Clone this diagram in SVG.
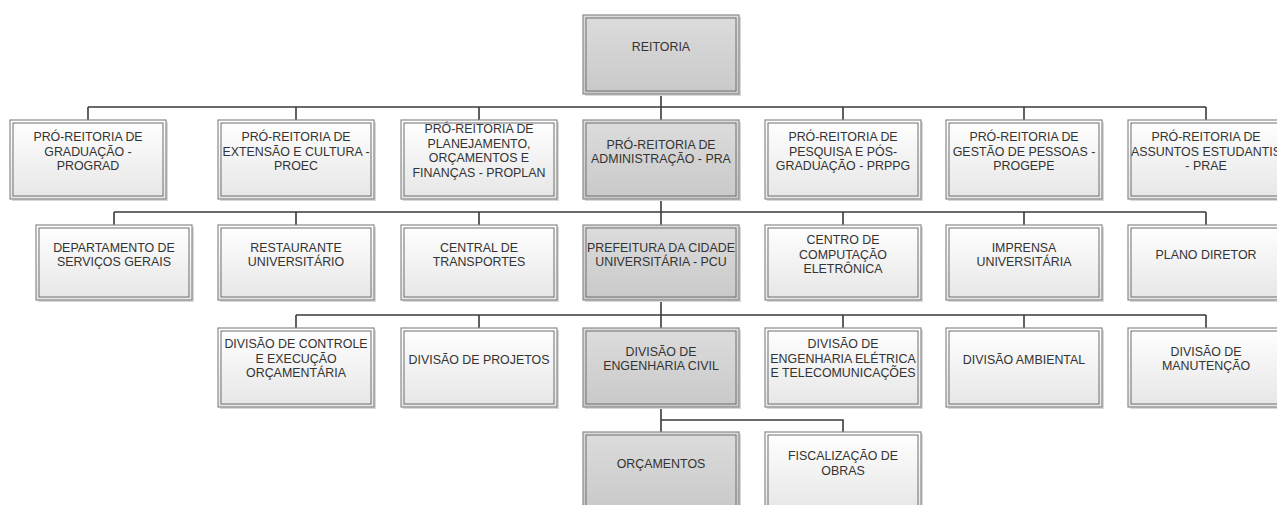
<svg xmlns="http://www.w3.org/2000/svg" width="1277" height="505" viewBox="0 0 1277 505">
<defs>
<linearGradient id="gN" x1="0" y1="0" x2="0" y2="1"><stop offset="0" stop-color="#ffffff"/><stop offset="1" stop-color="#e6e6e6"/></linearGradient>
<linearGradient id="gH" x1="0" y1="0" x2="0" y2="1"><stop offset="0" stop-color="#dcdcdc"/><stop offset="1" stop-color="#c9c9c9"/></linearGradient>
</defs>
<style>
.sh{fill:#d8d8d8}
.o{stroke:#8a8a8a;stroke-width:1.2}
.n{fill:url(#gN)}
.h{fill:url(#gH)}
.i{fill:none;stroke:#6e6e6e;stroke-width:1}
text{font-family:"Liberation Sans",Arial,sans-serif;font-size:12.4px;fill:#333;text-anchor:middle}
.c{fill:none;stroke:#3a3a3a;stroke-width:1.6}
</style>
<rect width="1277" height="505" fill="#fff"/>
<g id="connectors">
<path class="c" d="M661,94V120M88,107H1206M88,107V120M296,107V120M479,107V120M843,107V120M1024,107V120M1206,107V120"/>
<path class="c" d="M661,199V225M114,212H1206M114,212V225M296,212V225M479,212V225M843,212V225M1024,212V225M1206,212V225"/>
<path class="c" d="M661,300V328M296,315H1206M296,315V328M479,315V328M843,315V328M1024,315V328M1206,315V328"/>
<path class="c" d="M661,407V432M661,420H843V432"/>
</g>
<g id="reitoria"><rect class="sh" x="585" y="17" width="156" height="79"/><rect class="o h" x="583" y="15" width="156" height="79"/><rect class="i" x="586" y="18" width="150" height="73"/><text x="661" y="51">REITORIA</text></g>

<g id="prograd"><rect class="sh" x="12" y="122" width="156" height="79"/><rect class="o n" x="10" y="120" width="156" height="79"/><rect class="i" x="13" y="123" width="150" height="73"/><text x="88" y="141">PRÓ-REITORIA DE</text><text x="88" y="155.5">GRADUAÇÃO -</text><text x="88" y="170">PROGRAD</text></g>
<g id="proec"><rect class="sh" x="220" y="122" width="156" height="79"/><rect class="o n" x="218" y="120" width="156" height="79"/><rect class="i" x="221" y="123" width="150" height="73"/><text x="296" y="141">PRÓ-REITORIA DE</text><text x="296" y="155.5">EXTENSÃO E CULTURA -</text><text x="296" y="170">PROEC</text></g>
<g id="proplan"><rect class="sh" x="403" y="122" width="156" height="79"/><rect class="o n" x="401" y="120" width="156" height="79"/><rect class="i" x="404" y="123" width="150" height="73"/><text x="479" y="133">PRÓ-REITORIA DE</text><text x="479" y="147.5">PLANEJAMENTO,</text><text x="479" y="162">ORÇAMENTOS E</text><text x="479" y="176.5">FINANÇAS - PROPLAN</text></g>
<g id="pra"><rect class="sh" x="585" y="122" width="156" height="79"/><rect class="o h" x="583" y="120" width="156" height="79"/><rect class="i" x="586" y="123" width="150" height="73"/><text x="661" y="148.5">PRÓ-REITORIA DE</text><text x="661" y="163">ADMINISTRAÇÃO - PRA</text></g>
<g id="prppg"><rect class="sh" x="767" y="122" width="156" height="79"/><rect class="o n" x="765" y="120" width="156" height="79"/><rect class="i" x="768" y="123" width="150" height="73"/><text x="843" y="141">PRÓ-REITORIA DE</text><text x="843" y="155.5">PESQUISA E PÓS-</text><text x="843" y="170">GRADUAÇÃO - PRPPG</text></g>
<g id="progepe"><rect class="sh" x="948" y="122" width="156" height="79"/><rect class="o n" x="946" y="120" width="156" height="79"/><rect class="i" x="949" y="123" width="150" height="73"/><text x="1024" y="141">PRÓ-REITORIA DE</text><text x="1024" y="155.5">GESTÃO DE PESSOAS -</text><text x="1024" y="170">PROGEPE</text></g>
<g id="prae"><rect class="sh" x="1130" y="122" width="156" height="79"/><rect class="o n" x="1128" y="120" width="156" height="79"/><rect class="i" x="1131" y="123" width="150" height="73"/><text x="1206" y="141">PRÓ-REITORIA DE</text><text x="1206" y="155.5">ASSUNTOS ESTUDANTIS</text><text x="1206" y="170">- PRAE</text></g>

<g id="dsg"><rect class="sh" x="38" y="227" width="156" height="75"/><rect class="o n" x="36" y="225" width="156" height="75"/><rect class="i" x="39" y="228" width="150" height="69"/><text x="114" y="251.5">DEPARTAMENTO DE</text><text x="114" y="266">SERVIÇOS GERAIS</text></g>
<g id="ru"><rect class="sh" x="220" y="227" width="156" height="75"/><rect class="o n" x="218" y="225" width="156" height="75"/><rect class="i" x="221" y="228" width="150" height="69"/><text x="296" y="251.5">RESTAURANTE</text><text x="296" y="266">UNIVERSITÁRIO</text></g>
<g id="ct"><rect class="sh" x="403" y="227" width="156" height="75"/><rect class="o n" x="401" y="225" width="156" height="75"/><rect class="i" x="404" y="228" width="150" height="69"/><text x="479" y="251.5">CENTRAL DE</text><text x="479" y="266">TRANSPORTES</text></g>
<g id="pcu"><rect class="sh" x="585" y="227" width="156" height="75"/><rect class="o h" x="583" y="225" width="156" height="75"/><rect class="i" x="586" y="228" width="150" height="69"/><text x="661" y="251.5">PREFEITURA DA CIDADE</text><text x="661" y="266">UNIVERSITÁRIA - PCU</text></g>
<g id="cce"><rect class="sh" x="767" y="227" width="156" height="75"/><rect class="o n" x="765" y="225" width="156" height="75"/><rect class="i" x="768" y="228" width="150" height="69"/><text x="843" y="244">CENTRO DE</text><text x="843" y="258.5">COMPUTAÇÃO</text><text x="843" y="273">ELETRÔNICA</text></g>
<g id="iu"><rect class="sh" x="948" y="227" width="156" height="75"/><rect class="o n" x="946" y="225" width="156" height="75"/><rect class="i" x="949" y="228" width="150" height="69"/><text x="1024" y="251.5">IMPRENSA</text><text x="1024" y="266">UNIVERSITÁRIA</text></g>
<g id="pd"><rect class="sh" x="1130" y="227" width="156" height="75"/><rect class="o n" x="1128" y="225" width="156" height="75"/><rect class="i" x="1131" y="228" width="150" height="69"/><text x="1206" y="258.5">PLANO DIRETOR</text></g>

<g id="dceo"><rect class="sh" x="220" y="330" width="156" height="79"/><rect class="o n" x="218" y="328" width="156" height="79"/><rect class="i" x="221" y="331" width="150" height="73"/><text x="296" y="348">DIVISÃO DE CONTROLE</text><text x="296" y="362.5">E EXECUÇÃO</text><text x="296" y="377">ORÇAMENTÁRIA</text></g>
<g id="dp"><rect class="sh" x="403" y="330" width="156" height="79"/><rect class="o n" x="401" y="328" width="156" height="79"/><rect class="i" x="404" y="331" width="150" height="73"/><text x="479" y="364">DIVISÃO DE PROJETOS</text></g>
<g id="dec"><rect class="sh" x="585" y="330" width="156" height="79"/><rect class="o h" x="583" y="328" width="156" height="79"/><rect class="i" x="586" y="331" width="150" height="73"/><text x="661" y="355.5">DIVISÃO DE</text><text x="661" y="370">ENGENHARIA CIVIL</text></g>
<g id="deet"><rect class="sh" x="767" y="330" width="156" height="79"/><rect class="o n" x="765" y="328" width="156" height="79"/><rect class="i" x="768" y="331" width="150" height="73"/><text x="843" y="348">DIVISÃO DE</text><text x="843" y="362.5">ENGENHARIA ELÉTRICA</text><text x="843" y="377">E TELECOMUNICAÇÕES</text></g>
<g id="da"><rect class="sh" x="948" y="330" width="156" height="79"/><rect class="o n" x="946" y="328" width="156" height="79"/><rect class="i" x="949" y="331" width="150" height="73"/><text x="1024" y="364">DIVISÃO AMBIENTAL</text></g>
<g id="dm"><rect class="sh" x="1130" y="330" width="156" height="79"/><rect class="o n" x="1128" y="328" width="156" height="79"/><rect class="i" x="1131" y="331" width="150" height="73"/><text x="1206" y="355.5">DIVISÃO DE</text><text x="1206" y="370">MANUTENÇÃO</text></g>

<g id="orc"><rect class="sh" x="585" y="434" width="156" height="79"/><rect class="o h" x="583" y="432" width="156" height="79"/><rect class="i" x="586" y="435" width="150" height="73"/><text x="661" y="468">ORÇAMENTOS</text></g>
<g id="fo"><rect class="sh" x="767" y="434" width="156" height="79"/><rect class="o n" x="765" y="432" width="156" height="79"/><rect class="i" x="768" y="435" width="150" height="73"/><text x="843" y="460">FISCALIZAÇÃO DE</text><text x="843" y="474.5">OBRAS</text></g>
</svg>
